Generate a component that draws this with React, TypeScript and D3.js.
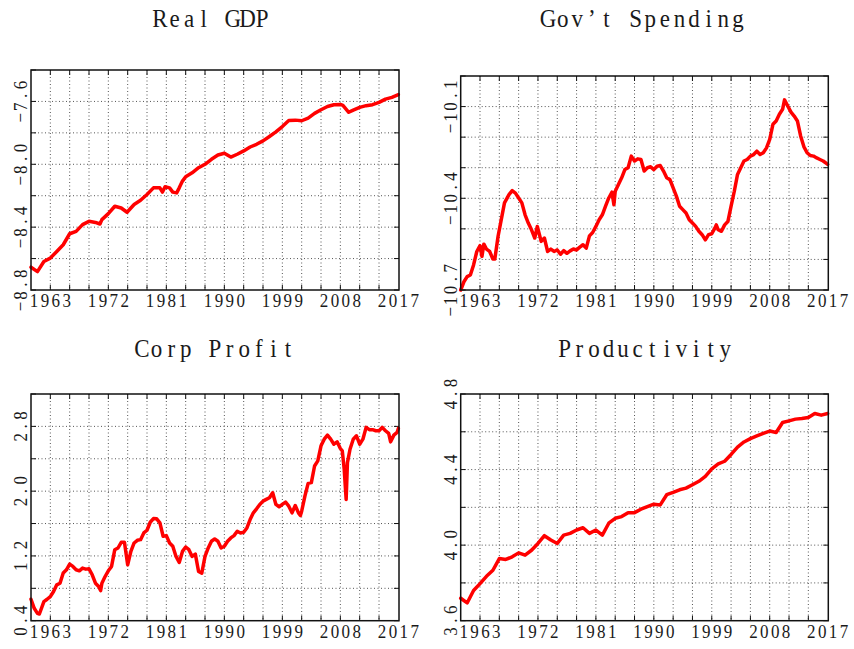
import React from 'react';
import * as d3 from 'd3';

// ---------- data ----------
const gdpYears = [1960,1961,1962,1963,1964,1965,1966,1967,1968,1969,1970,1970.7,1971,1972,1973,1974,1974.9,1976,1977,1978,1979,1980,1980.4,1980.8,1981.5,1982,1982.6,1983,1983.5,1984,1985,1986,1987,1988,1989,1990,1991,1992,1993,1994,1995,1996,1997,1998,1999,2000,2001,2002,2003,2004,2005,2006,2007,2008,2008.4,2009.3,2010,2011,2012,2013,2014,2015,2016,2017];
const gdpValues = [-8.655,-8.683,-8.619,-8.597,-8.555,-8.512,-8.442,-8.427,-8.384,-8.363,-8.370,-8.380,-8.352,-8.314,-8.267,-8.278,-8.305,-8.256,-8.229,-8.192,-8.150,-8.150,-8.177,-8.143,-8.150,-8.177,-8.182,-8.150,-8.107,-8.079,-8.054,-8.022,-8.000,-7.968,-7.941,-7.930,-7.954,-7.936,-7.915,-7.890,-7.873,-7.851,-7.823,-7.794,-7.760,-7.721,-7.719,-7.723,-7.706,-7.676,-7.653,-7.632,-7.621,-7.619,-7.625,-7.669,-7.655,-7.638,-7.627,-7.621,-7.606,-7.585,-7.574,-7.557];

const govYears = [1960,1960.5,1961,1961.5,1962,1962.5,1963,1963.3,1963.6,1964,1964.5,1965,1965.3,1965.8,1966.3,1966.8,1967.5,1968,1968.5,1969,1969.5,1970,1970.5,1971,1971.5,1971.9,1972.5,1973,1973.5,1974,1974.5,1975,1975.5,1976,1976.5,1977,1977.5,1978,1978.5,1979,1979.5,1980,1980.5,1981,1981.5,1982,1982.5,1983,1983.5,1983.8,1984,1984.5,1985,1985.5,1986,1986.5,1987,1987.5,1988,1988.5,1989,1989.5,1990,1990.5,1991,1991.5,1992,1992.5,1993,1993.5,1994,1994.5,1995,1995.5,1996,1996.5,1997,1997.5,1998,1998.5,1999,1999.5,1999.7,2000,2000.5,2001,2001.5,2002,2002.5,2003,2003.5,2004,2004.5,2005,2005.5,2006,2006.5,2007,2007.5,2008,2008.5,2009,2009.5,2010,2010.3,2010.8,2011.3,2011.8,2012.3,2012.8,2013.3,2013.8,2014.3,2014.8,2015.3,2015.8,2016.3,2016.8,2017];
const govValues = [-10.700,-10.673,-10.656,-10.651,-10.618,-10.574,-10.555,-10.590,-10.550,-10.566,-10.574,-10.599,-10.599,-10.525,-10.470,-10.415,-10.388,-10.375,-10.383,-10.399,-10.415,-10.454,-10.481,-10.503,-10.530,-10.492,-10.541,-10.530,-10.574,-10.566,-10.574,-10.569,-10.583,-10.571,-10.580,-10.572,-10.566,-10.569,-10.560,-10.552,-10.563,-10.523,-10.512,-10.492,-10.470,-10.454,-10.426,-10.399,-10.380,-10.421,-10.377,-10.355,-10.333,-10.306,-10.300,-10.262,-10.278,-10.271,-10.273,-10.311,-10.300,-10.297,-10.306,-10.295,-10.293,-10.311,-10.333,-10.339,-10.366,-10.393,-10.426,-10.437,-10.448,-10.470,-10.481,-10.492,-10.508,-10.519,-10.536,-10.519,-10.516,-10.497,-10.487,-10.503,-10.508,-10.487,-10.476,-10.426,-10.377,-10.322,-10.300,-10.278,-10.273,-10.262,-10.257,-10.246,-10.257,-10.251,-10.235,-10.207,-10.158,-10.147,-10.125,-10.109,-10.078,-10.098,-10.118,-10.131,-10.147,-10.196,-10.231,-10.251,-10.260,-10.262,-10.268,-10.273,-10.278,-10.286,-10.289];

const profitYears = [1960,1960.5,1961,1961.3,1962,1962.5,1963,1963.5,1964,1964.5,1965,1965.5,1966,1966.5,1967,1967.5,1968,1968.5,1969,1969.5,1970,1970.5,1970.8,1971,1971.5,1972,1972.5,1973,1973.5,1974,1974.5,1975,1975.5,1976,1976.5,1977,1977.5,1978,1978.5,1979,1979.5,1980,1980.5,1981,1981.5,1982,1982.5,1983,1983.5,1984,1984.5,1985,1985.5,1986,1986.5,1987,1987.5,1988,1988.5,1989,1989.5,1990,1990.5,1991,1991.5,1992,1992.5,1993,1993.5,1994,1994.5,1995,1995.5,1996,1996.5,1997,1997.5,1998,1998.5,1999,1999.5,2000,2000.5,2001,2001.5,2001.8,2002,2002.5,2003,2003.5,2004,2004.5,2005,2005.5,2006,2006.5,2007,2007.5,2008,2008.3,2008.6,2008.9,2009.1,2009.5,2010,2010.5,2011,2011.5,2012,2012.5,2013,2013.5,2014,2014.5,2015,2015.5,2015.8,2016.3,2016.8,2017];
const profitValues = [0.665,0.553,0.491,0.483,0.636,0.665,0.698,0.760,0.843,0.863,0.988,1.029,1.099,1.070,1.029,1.016,1.050,1.037,1.041,0.967,0.863,0.822,0.772,0.863,0.946,1.016,1.070,1.277,1.298,1.368,1.368,1.091,1.256,1.360,1.393,1.401,1.484,1.517,1.616,1.662,1.658,1.608,1.443,1.451,1.360,1.319,1.194,1.120,1.256,1.310,1.277,1.194,1.223,1.008,0.988,1.194,1.298,1.381,1.410,1.381,1.298,1.319,1.381,1.422,1.451,1.505,1.484,1.492,1.546,1.649,1.732,1.782,1.836,1.877,1.898,1.918,1.980,1.836,1.807,1.836,1.865,1.815,1.732,1.823,1.732,1.699,1.753,1.939,2.096,2.105,2.311,2.374,2.560,2.642,2.692,2.642,2.580,2.609,2.527,2.498,2.270,1.898,2.353,2.518,2.642,2.684,2.580,2.642,2.788,2.759,2.759,2.746,2.746,2.788,2.746,2.713,2.609,2.692,2.725,2.775];

const prodYears = [1960,1961,1962,1963,1964,1965,1966,1967,1968,1969,1970,1971,1972,1973,1974,1975,1976,1977,1978,1979,1980,1981,1982,1983,1984,1985,1986,1987,1988,1989,1990,1991,1992,1993,1994,1995,1996,1997,1998,1999,2000,2001,2002,2003,2004,2005,2006,2007,2008,2009,2010,2011,2012,2013,2014,2015,2016,2017];
const prodValues = [3.719,3.694,3.760,3.796,3.835,3.867,3.929,3.924,3.938,3.959,3.947,3.973,4.009,4.050,4.027,4.009,4.053,4.062,4.080,4.092,4.062,4.080,4.053,4.116,4.142,4.151,4.172,4.172,4.190,4.204,4.217,4.213,4.267,4.279,4.293,4.302,4.320,4.338,4.364,4.404,4.430,4.444,4.480,4.519,4.546,4.564,4.578,4.592,4.604,4.596,4.649,4.658,4.667,4.670,4.676,4.697,4.688,4.697];

const titles = ['Real GDP', "Gov\u2019t Spending", 'Corp Profit', 'Productivity'];
const xLabelYears = [1963, 1972, 1981, 1990, 1999, 2008, 2017];
const gdpTicks = { domain: [-8.8, -7.4], grid: 0.2, labels: [-8.8, -8.4, -8.0, -7.6] };
const govTicks = { domain: [-10.7, -10.0], grid: 0.1, labels: [-10.7, -10.4, -10.1] };
const profitTicks = { domain: [0.4, 3.2], grid: 0.4, labels: [0.4, 1.2, 2.0, 2.8] };
const prodTicks = { domain: [3.6, 4.8], grid: 0.2, labels: [3.6, 4.0, 4.4, 4.8] };

// ---------- layout ----------
const FONT = "'Liberation Serif', 'DejaVu Serif', serif";

const panels = [
  { title: titles[0], years: gdpYears, values: gdpValues, t: gdpTicks, box: [31, 70, 399, 290], titleX: 211, titleY: 27 },
  { title: titles[1], years: govYears, values: govValues, t: govTicks, box: [460.7, 76, 828.3, 290], titleX: 643, titleY: 27 },
  { title: titles[2], years: profitYears, values: profitValues, t: profitTicks, box: [31, 394, 399, 620.7], titleX: 215, titleY: 357 },
  { title: titles[3], years: prodYears, values: prodValues, t: prodTicks, box: [460.7, 394, 828.3, 620.7], titleX: 645, titleY: 357 },
];

const fmt = (v: number) => {
  const s = v.toFixed(1);
  return s.startsWith('-') ? '\u2212' + s.slice(1) : s;
};

// monospace-style text: one <text>, every glyph centred on a fixed advance
function MonoText({ text, transform, advance, size, sy }: { text: string; transform: string; advance: number; size: number; sy: number }) {
  const n = Array.from(text).length;
  const xs = Array.from(text).map((_, i) => ((i - (n - 1) / 2) * advance).toFixed(2)).join(' ');
  return (
    <g transform={`${transform} scale(1,${sy})`}>
      <text x={xs} y={0} textAnchor="middle" fontFamily={FONT} fontSize={size} fill="#1a1a1a" style={{ whiteSpace: 'pre' }}>
        {text}
      </text>
    </g>
  );
}

function Panel({ p }: { p: any }) {
  const [x0, y0, x1, y1] = p.box;
  const x = d3.scaleLinear().domain([1960, 2017.1]).range([x0, x1]);
  const y = d3.scaleLinear().domain(p.t.domain).range([y1, y0]);
  const [d0, d1] = p.t.domain;
  const n = Math.round((d1 - d0) / p.t.grid);
  const yGrid = d3.range(1, n).map((i) => d0 + i * p.t.grid);
  const yTickAll = d3.range(0, n + 1).map((i) => d0 + i * p.t.grid);
  const xGrid = d3.range(1963, 2016, 3);
  const line = d3
    .line<number>()
    .x((_, i) => x(p.years[i]))
    .y((v) => y(v));
  const tl = 5;
  return (
    <g>
      <MonoText text={p.title} transform={`translate(${p.titleX},${p.titleY})`} advance={14.6} size={23} sy={1.12} />
      {/* grid */}
      {xGrid.map((g) => (
        <line key={'xg' + g} x1={x(g)} x2={x(g)} y1={y0} y2={y1} stroke="#555" strokeWidth={1} strokeDasharray="1,2.5" />
      ))}
      {yGrid.map((g, i) => (
        <line key={'yg' + i} x1={x0} x2={x1} y1={y(g)} y2={y(g)} stroke="#555" strokeWidth={1} strokeDasharray="1,2.5" />
      ))}
      {/* inward ticks */}
      {xGrid.map((g) => (
        <g key={'xt' + g}>
          <line x1={x(g)} x2={x(g)} y1={y1} y2={y1 - tl} stroke="#111" strokeWidth={1} />
          <line x1={x(g)} x2={x(g)} y1={y0} y2={y0 + tl} stroke="#111" strokeWidth={1} />
        </g>
      ))}
      {yTickAll.map((g, i) => (
        <g key={'yt' + i}>
          <line x1={x0} x2={x0 + tl} y1={y(g)} y2={y(g)} stroke="#111" strokeWidth={1} />
          <line x1={x1} x2={x1 - tl} y1={y(g)} y2={y(g)} stroke="#111" strokeWidth={1} />
        </g>
      ))}
      {/* data line */}
      <path d={line(p.values) || ''} fill="none" stroke="#ff0000" strokeWidth={3.5} strokeLinejoin="round" strokeLinecap="round" />
      {/* frame */}
      <rect x={x0} y={y0} width={x1 - x0} height={y1 - y0} fill="none" stroke="#111" strokeWidth={1.5} />
      {/* x labels */}
      {xLabelYears.map((yr) => (
        <MonoText key={'xl' + yr} text={String(yr)} transform={`translate(${x(yr)},${y1 + 17})`} advance={10.9} size={17} sy={1.16} />
      ))}
      {/* y labels */}
      {p.t.labels.map((v: number, i: number) => (
        <MonoText
          key={'yl' + i}
          text={fmt(v)}
          transform={`translate(${x0 - 4},${y(v)}) rotate(-90)`}
          advance={10.9}
          size={17}
          sy={1.16}
        />
      ))}
    </g>
  );
}

export default function App() {
  return (
    <svg width={854} height={649} style={{ position: 'absolute', left: 0, top: 0, background: '#fff' }}>
      <rect x={0} y={0} width={854} height={649} fill="#fff" />
      {panels.map((p, i) => (
        <Panel key={i} p={p} />
      ))}
    </svg>
  );
}
